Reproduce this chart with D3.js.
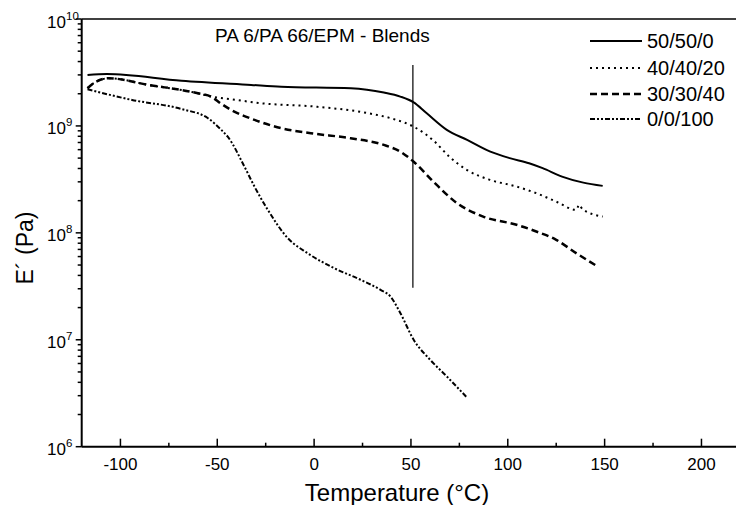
<!DOCTYPE html>
<html>
<head>
<meta charset="utf-8">
<script src="https://cdn.jsdelivr.net/npm/d3@7"></script>
<style>
    body { margin: 0; background: #fff; }
    svg { display: block; font-family: "Liberation Sans", Arial, sans-serif; }
</style>
</head>
<body>
<div id="chart"></div>
<script>
// E' (Pa) vs temperature (°C)
const seriesNames = ["50/50/0", "40/40/20", "30/30/40", "0/0/100"];

const temp5050 = [-117, -107, -68.5, -32.5, -17, 19, 36, 44.5, 51.4, 58, 68.5, 79, 91, 101, 111, 118, 128, 139, 149];
const mod5050 = [3.0e9, 3.06e9, 2.65e9, 2.42e9, 2.33e9, 2.25e9, 2.05e9, 1.88e9, 1.66e9, 1.32e9, 9.2e8, 7.4e8, 5.75e8, 5.0e8, 4.48e8, 4.03e8, 3.36e8, 2.95e8, 2.75e8];

const temp404020 = [-117, -114, -106, -85.6, -60, -53, -43, -27.4, 1.7, 27.4, 41, 51.4, 61.6, 70.2, 78.8, 90.8, 104.5, 114.7, 125, 135.3, 136.9, 138.5, 149];
const mod404020 = [2.25e9, 2.5e9, 2.79e9, 2.42e9, 2.02e9, 1.88e9, 1.78e9, 1.63e9, 1.51e9, 1.32e9, 1.16e9, 9.84e8, 7.31e8, 5.08e8, 3.88e8, 3.13e8, 2.71e8, 2.35e8, 1.96e8, 1.64e8, 1.83e8, 1.67e8, 1.42e8];

const temp303040 = [-117, -114, -106, -85.6, -60, -53, -47.9, -42.8, -30.8, -17.1, -1.7, 18.8, 36, 44.5, 51.4, 61.6, 73.7, 87.3, 104.5, 114.7, 125, 135.3, 146.4];
const mod303040 = [2.25e9, 2.5e9, 2.79e9, 2.42e9, 2.02e9, 1.87e9, 1.61e9, 1.41e9, 1.14e9, 9.53e8, 8.55e8, 7.67e8, 6.64e8, 5.75e8, 4.63e8, 3.01e8, 1.9e8, 1.42e8, 1.19e8, 1.03e8, 8.61e7, 6.46e7, 4.84e7];

const temp00100 = [-117, -94, -68.5, -54.8, -47.9, -44.5, -36, -30.8, -23.9, -13.7, -3.4, 10.3, 24, 34.3, 39.4, 44.5, 51.4, 59.9, 68.5, 78.8];
const mod00100 = [2.2e9, 1.75e9, 1.44e9, 1.18e9, 9.18e8, 7.89e8, 4.17e8, 2.71e8, 1.64e8, 8.97e7, 6.46e7, 4.68e7, 3.64e7, 2.93e7, 2.54e7, 1.78e7, 1.0e7, 6.5e6, 4.54e6, 2.9e6];

// vertical marker line
const markerTemp = 51;
const markerRange = [3.06e7, 3.72e9];

const xTicks = [-100, -50, 0, 50, 100, 150, 200];
const xMinorTicks = [-75, -25, 25, 75, 125, 175];
const yTickExps = [6, 7, 8, 9, 10];

const seriesTemps = [temp5050, temp404020, temp303040, temp00100];
const seriesMods = [mod5050, mod404020, mod303040, mod00100];

// line styles per series
const dashes = [null, "2,4", "7,4", "5,2,2,2,2,2"];
const widths = [2, 2, 2.5, 2];

const W = 736, H = 505;
const margin = { top: 19, left: 81.7 };
const plotRight = 740.2, plotBottom = 446.7;

const svg = d3.select("#chart").append("svg")
    .attr("width", W)
    .attr("height", H);

const x = d3.scaleLinear().domain([-120, 220]).range([margin.left, plotRight]);
const y = d3.scaleLog().domain([1e6, 1e10]).range([plotBottom, margin.top]);

// frame lines (left, bottom, top)
svg.append("line")
    .attr("x1", margin.left).attr("x2", margin.left)
    .attr("y1", margin.top).attr("y2", plotBottom)
    .attr("stroke", "#000").attr("stroke-width", 2);
svg.append("line")
    .attr("x1", margin.left).attr("x2", plotRight)
    .attr("y1", plotBottom).attr("y2", plotBottom)
    .attr("stroke", "#000").attr("stroke-width", 2);
svg.append("line")
    .attr("x1", margin.left).attr("x2", plotRight)
    .attr("y1", margin.top).attr("y2", margin.top)
    .attr("stroke", "#000").attr("stroke-width", 1.6);

// x ticks point inward
const xAxis = svg.append("g");
xAxis.selectAll(".xmajor").data(xTicks).enter().append("line")
    .attr("x1", d => x(d)).attr("x2", d => x(d))
    .attr("y1", plotBottom).attr("y2", plotBottom - 8)
    .attr("stroke", "#000").attr("stroke-width", 1.5);
xAxis.selectAll(".xminor").data(xMinorTicks).enter().append("line")
    .attr("x1", d => x(d)).attr("x2", d => x(d))
    .attr("y1", plotBottom).attr("y2", plotBottom - 4)
    .attr("stroke", "#000").attr("stroke-width", 1.5);
xAxis.selectAll(".xlabel").data(xTicks).enter().append("text")
    .attr("x", d => x(d))
    .attr("y", 470)
    .attr("text-anchor", "middle")
    .style("font-size", "17px")
    .text(d => d);

// y ticks point outward, log minors 2..9
const yMinor = [];
yTickExps.slice(0, -1).forEach(e => {
    for (let k = 2; k <= 9; k++) yMinor.push(k * Math.pow(10, e));
});
const yAxis = svg.append("g");
yAxis.selectAll(".ymajor").data(yTickExps).enter().append("line")
    .attr("x1", margin.left).attr("x2", margin.left - 6)
    .attr("y1", d => y(Math.pow(10, d))).attr("y2", d => y(Math.pow(10, d)))
    .attr("stroke", "#000").attr("stroke-width", 1.5);
yAxis.selectAll(".yminor").data(yMinor).enter().append("line")
    .attr("x1", margin.left).attr("x2", margin.left - 4)
    .attr("y1", d => y(d)).attr("y2", d => y(d))
    .attr("stroke", "#000").attr("stroke-width", 1.5);

const yLabels = yAxis.selectAll(".ylabel").data(yTickExps).enter().append("g");
yLabels.append("text")
    .attr("x", 66)
    .attr("y", d => y(Math.pow(10, d)) + 8.5)
    .attr("text-anchor", "end")
    .style("font-size", "17px")
    .text("10");
yLabels.append("text")
    .attr("x", 66)
    .attr("y", d => y(Math.pow(10, d)) + 0.5)
    .style("font-size", "11.5px")
    .text(d => d);

// axis titles
svg.append("text")
    .attr("x", 397)
    .attr("y", 500.5)
    .attr("text-anchor", "middle")
    .style("font-size", "24px")
    .text("Temperature (°C)");

svg.append("text")
    .attr("transform", "translate(33,248) rotate(-90)")
    .attr("text-anchor", "middle")
    .style("font-size", "23px")
    .text("E´ (Pa)");

svg.append("text")
    .attr("x", 215)
    .attr("y", 41.5)
    .style("font-size", "19px")
    .text("PA 6/PA 66/EPM - Blends");

// marker line at ~51 °C
svg.append("line")
    .attr("x1", x(markerTemp)).attr("x2", x(markerTemp))
    .attr("y1", y(markerRange[1])).attr("y2", y(markerRange[0]))
    .attr("stroke", "#000").attr("stroke-width", 1.2);

// curves
const line = d3.line()
    .x(d => x(d[0]))
    .y(d => y(d[1]))
    .curve(d3.curveMonotoneX);

seriesNames.forEach((name, i) => {
    const pts = seriesTemps[i].map((t, j) => [t, seriesMods[i][j]]);
    svg.append("path")
        .datum(pts)
        .attr("d", line)
        .attr("fill", "none")
        .attr("stroke", "#000")
        .attr("stroke-width", widths[i])
        .attr("stroke-dasharray", dashes[i]);
});

// legend
const legend = svg.append("g").attr("transform", "translate(590,41)");
seriesNames.forEach((name, i) => {
    const ly = [0, 27, 53, 78][i];
    legend.append("line")
        .attr("x1", 0).attr("x2", 52)
        .attr("y1", ly).attr("y2", ly)
        .attr("stroke", "#000")
        .attr("stroke-width", widths[i])
        .attr("stroke-dasharray", dashes[i]);
    legend.append("text")
        .attr("x", 57)
        .attr("y", ly + 7.3)
        .style("font-size", "20px")
        .text(name);
});
</script>
</body>
</html>
